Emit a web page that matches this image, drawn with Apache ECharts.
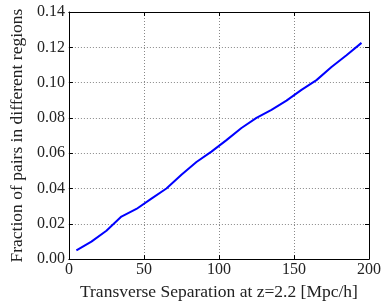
<!DOCTYPE html>
<html><head><meta charset="utf-8">
<script src="https://cdn.jsdelivr.net/npm/echarts@6/dist/echarts.min.js"></script>
<style>html,body{margin:0;padding:0;background:#fff}#c{width:388px;height:306px}</style>
</head><body><div id="c"></div>
<script>
const separation = [5,15,25,35,45,55,65,75,85,95,105,115,125,135,145,155,165,175,185,195];
const fraction = [0.0049,0.0099,0.0161,0.0241,0.0284,0.0343,0.0400,0.0478,0.0550,0.0609,0.0674,0.0743,0.0800,0.0846,0.0898,0.0959,0.1014,0.1088,0.1155,0.1225];
const xTitle = 'Transverse Separation at z=2.2 [Mpc/h]';
const yTitle = 'Fraction of pairs in different regions';
const font = 'Liberation Serif';
const chart = echarts.init(document.getElementById('c'));
const gridLine = {show:true,lineStyle:{color:'#888',type:[1,2],width:1}};
chart.setOption({
  animation:false,
  grid:{left:58,right:19,top:12,bottom:44},
  xAxis:[{type:'value',min:0,max:200,interval:50,position:'bottom',
    name:xTitle,nameLocation:'middle',nameGap:21,
    nameTextStyle:{fontFamily:font,fontSize:17.5,color:'#222'},
    axisLine:{show:true,onZero:false,lineStyle:{color:'#000',width:1}},
    axisTick:{show:true,inside:true,length:4,lineStyle:{color:'#000'}},
    axisLabel:{fontFamily:font,fontSize:16,color:'#222',margin:3},
    splitLine:gridLine},
    {type:'value',min:0,max:200,interval:50,position:'top',
    axisLine:{show:true,onZero:false,lineStyle:{color:'#000',width:1}},
    axisTick:{show:true,inside:true,length:4,lineStyle:{color:'#000'}},
    axisLabel:{show:false},splitLine:{show:false}}],
  yAxis:[{type:'value',min:0,max:0.14,interval:0.02,position:'left',
    name:yTitle,nameLocation:'middle',nameGap:40,
    nameTextStyle:{fontFamily:font,fontSize:17.5,color:'#222'},
    axisLine:{show:true,onZero:false,lineStyle:{color:'#000',width:1}},
    axisTick:{show:true,inside:true,length:4,lineStyle:{color:'#000'}},
    axisLabel:{fontFamily:font,fontSize:16,color:'#222',margin:4,formatter:v=>v.toFixed(2)},
    splitLine:gridLine},
    {type:'value',min:0,max:0.14,interval:0.02,position:'right',
    axisLine:{show:true,onZero:false,lineStyle:{color:'#000',width:1}},
    axisTick:{show:true,inside:true,length:4,lineStyle:{color:'#000'}},
    axisLabel:{show:false},splitLine:{show:false}}],
  series:[{type:'line',data:separation.map((x,i)=>[x,fraction[i]]),
    showSymbol:false,lineStyle:{color:'#0000ff',width:2},xAxisIndex:0,yAxisIndex:0}]
});
</script></body></html>
